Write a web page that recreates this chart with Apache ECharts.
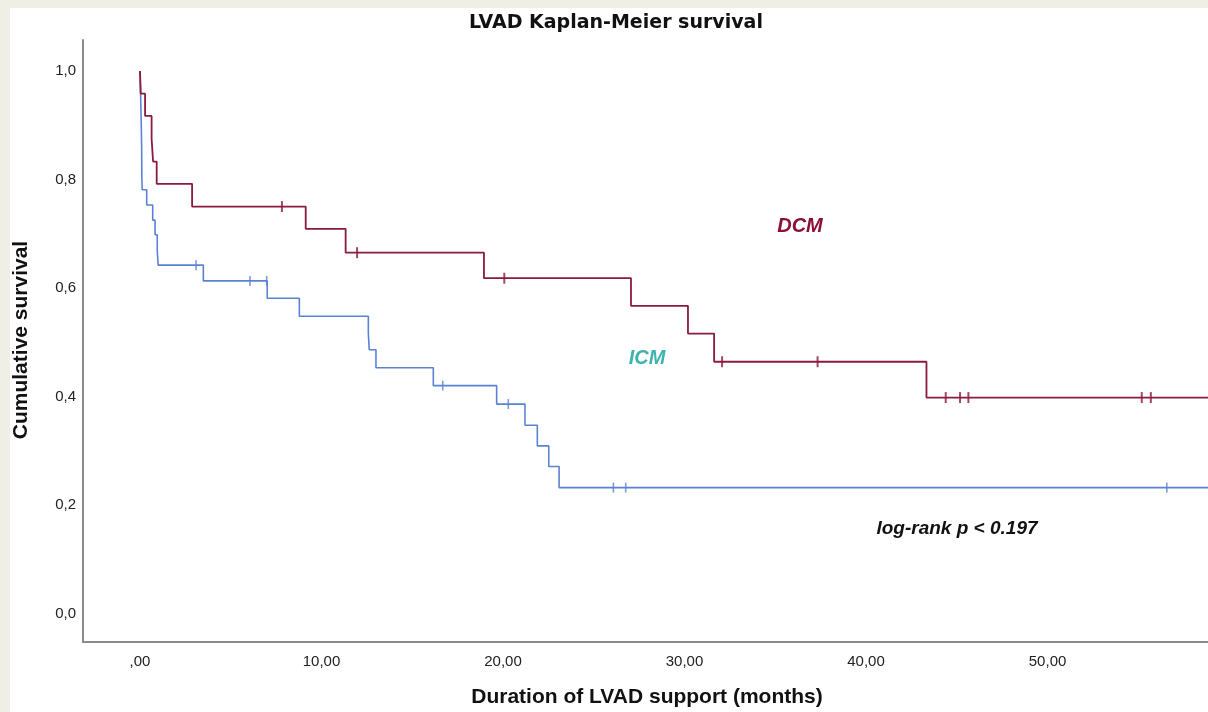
<!DOCTYPE html>
<html>
<head>
<meta charset="utf-8">
<script src="https://cdn.jsdelivr.net/npm/echarts@6/dist/echarts.min.js"></script>
<style>
  html, body { margin: 0; padding: 0; background: #f0efe6; width: 1208px; height: 712px; overflow: hidden; }
  #chart { position: absolute; left: 10px; top: 8px; width: 1198px; height: 704px; background: #ffffff; }
</style>
</head>
<body>
<div id="chart"></div>
<script>
// ---- Data (months, cumulative survival) ----
const dcmTime = [0, 0.04, 0.28, 0.64, 0.72, 0.92, 2.87, 9.13, 11.33, 18.95, 27.05, 30.19, 31.63, 43.33];
const dcmSurv = [1.0, 0.958, 0.917, 0.875, 0.833, 0.792, 0.750, 0.709, 0.665, 0.618, 0.567, 0.516, 0.464, 0.398];
const dcmCensor = [7.82, 11.96, 20.07, 32.07, 37.33, 44.39, 45.18, 45.64, 55.19, 55.69];

const icmTime = [0, 0.06, 0.09, 0.10, 0.12, 0.37, 0.70, 0.83, 0.95, 1.0, 3.49, 7.01, 8.78, 12.58, 12.63, 13.0, 16.16, 19.65, 21.21, 21.89, 22.52, 23.09];
const icmSurv = [1.0, 0.920, 0.864, 0.808, 0.781, 0.753, 0.725, 0.698, 0.670, 0.642, 0.613, 0.581, 0.548, 0.516, 0.486, 0.453, 0.420, 0.386, 0.347, 0.309, 0.271, 0.232];
const icmCensor = [3.09, 6.06, 6.98, 16.68, 20.29, 26.08, 26.76, 56.57];

const followUpEnd = 60;
const xTickValues = [0, 10, 20, 30, 40, 50];
const yTickValues = [0, 0.2, 0.4, 0.6, 0.8, 1.0];

// ---- helpers ----
function curve(times, surv) {
  const pts = times.map((t, i) => [t, surv[i]]);
  pts.push([followUpEnd, surv[surv.length - 1]]);
  return pts;
}
function survAt(times, surv, t) {
  let v = surv[0];
  for (let i = 0; i < times.length; i++) { if (times[i] <= t) v = surv[i]; }
  return v;
}
function censorPts(cens, times, surv) {
  return cens.map(t => [t, survAt(times, surv, t)]);
}

const RED = '#8b1a40';
const BLUE = '#5a82d4';
const labelFont = 'Liberation Sans, Arial, sans-serif';

const chart = echarts.init(document.getElementById('chart'));
chart.setOption({
  backgroundColor: '#ffffff',
  animation: false,
  grid: { left: 73, top: 32, right: 0, bottom: 70 },
  xAxis: {
    type: 'value',
    min: -3.14, max: 58.84,
    axisLine: { onZero: false, lineStyle: { color: '#8a8a8a', width: 2 } },
    axisTick: { show: false },
    splitLine: { show: false },
    axisLabel: {
      customValues: xTickValues,
      margin: 12,
      color: '#222',
      fontSize: 15,
      fontFamily: labelFont,
      formatter: v => v === 0 ? ',00' : v.toFixed(2).replace('.', ',')
    }
  },
  yAxis: {
    type: 'value',
    min: -0.0525, max: 1.057,
    axisLine: { onZero: false, lineStyle: { color: '#8a8a8a', width: 2 } },
    axisTick: { show: false },
    splitLine: { show: false },
    axisLabel: {
      customValues: yTickValues,
      margin: 7,
      color: '#222',
      fontSize: 15,
      fontFamily: labelFont,
      formatter: v => v.toFixed(1).replace('.', ',')
    }
  },
  series: [
    {
      name: 'ICM', type: 'line', step: 'end', symbol: 'none',
      lineStyle: { color: BLUE, width: 1.6 },
      data: curve(icmTime, icmSurv), z: 2
    },
    {
      name: 'DCM', type: 'line', step: 'end', symbol: 'none',
      lineStyle: { color: RED, width: 1.8 },
      data: curve(dcmTime, dcmSurv), z: 3
    },
    {
      name: 'ICM censored', type: 'scatter', symbol: 'rect', symbolSize: [1.6, 10],
      itemStyle: { color: BLUE },
      data: censorPts(icmCensor, icmTime, icmSurv), z: 4
    },
    {
      name: 'DCM censored', type: 'scatter', symbol: 'rect', symbolSize: [2, 11],
      itemStyle: { color: RED },
      data: censorPts(dcmCensor, dcmTime, dcmSurv), z: 5
    }
  ],
  graphic: [
    { type: 'text', x: 606, y: 15, style: { text: 'LVAD Kaplan-Meier survival', font: 'bold 19px "DejaVu Sans", sans-serif', fill: '#111', align: 'center', verticalAlign: 'middle' } },
    { type: 'text', x: 637, y: 689, style: { text: 'Duration of LVAD support (months)', font: 'bold 21px "Liberation Sans", Arial, sans-serif', fill: '#111', align: 'center', verticalAlign: 'middle' } },
    { type: 'text', x: 11, y: 332, rotation: Math.PI / 2, style: { text: 'Cumulative survival', font: 'bold 21px "Liberation Sans", Arial, sans-serif', fill: '#111', align: 'center', verticalAlign: 'middle' } },
    { type: 'text', x: 790, y: 218, style: { text: 'DCM', font: 'italic bold 20px "Liberation Sans", Arial, sans-serif', fill: '#8b0f3a', align: 'center', verticalAlign: 'middle' } },
    { type: 'text', x: 637, y: 350, style: { text: 'ICM', font: 'italic bold 20px "Liberation Sans", Arial, sans-serif', fill: '#3fb3ad', align: 'center', verticalAlign: 'middle' } },
    { type: 'text', x: 947, y: 521, style: { text: 'log-rank p < 0.197', font: 'italic bold 19px "Liberation Sans", Arial, sans-serif', fill: '#111', align: 'center', verticalAlign: 'middle' } }
  ]
});
</script>
</body>
</html>
